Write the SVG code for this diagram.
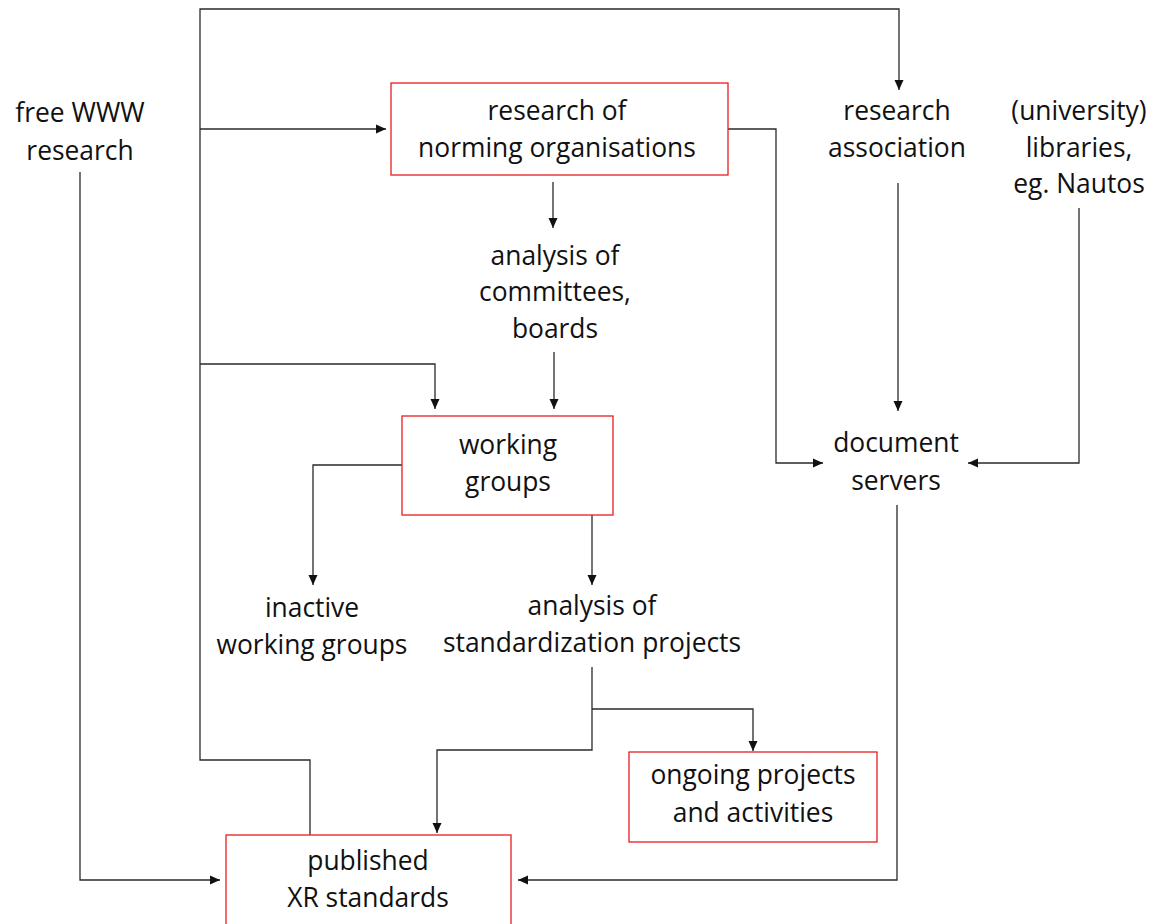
<svg xmlns="http://www.w3.org/2000/svg" width="1156" height="924" viewBox="0 0 1156 924">
<style>
text{font-family:"Open Sans","Liberation Sans",sans-serif;font-size:26.4px;fill:#111;text-anchor:middle}
.box{fill:#fff;stroke:#e81e1e;stroke-width:1.3}
.c{fill:none;stroke:#2a2a2a;stroke-width:1.3}
</style>
<defs>
<marker id="ah" markerUnits="userSpaceOnUse" markerWidth="10" markerHeight="10" refX="10" refY="5" orient="auto">
<path d="M0,0.5 L10,5 L0,9.5 z" fill="#111"/>
</marker>
</defs>
<rect width="1156" height="924" fill="#fff"/>
<g id="connectors">
<path class="c" d="M310,835 V760 H200 V9 H899 V90" marker-end="url(#ah)"/>
<path class="c" d="M200,129 H386" marker-end="url(#ah)"/>
<path class="c" d="M200,364 H435 V409" marker-end="url(#ah)"/>
<path class="c" d="M553,182 V228" marker-end="url(#ah)"/>
<path class="c" d="M554,352 V409" marker-end="url(#ah)"/>
<path class="c" d="M728,129 H776 V463 H823" marker-end="url(#ah)"/>
<path class="c" d="M1079,208 V463 H968" marker-end="url(#ah)"/>
<path class="c" d="M898,183 V411" marker-end="url(#ah)"/>
<path class="c" d="M897,505 V880 H518" marker-end="url(#ah)"/>
<path class="c" d="M80,172 V880 H220" marker-end="url(#ah)"/>
<path class="c" d="M402,465 H313 V585" marker-end="url(#ah)"/>
<path class="c" d="M592,515 V585" marker-end="url(#ah)"/>
<path class="c" d="M592,667 V750 H437 V833" marker-end="url(#ah)"/>
<path class="c" d="M592,709 H753 V751" marker-end="url(#ah)"/>
</g>
<g id="free-www">
<text x="80" y="122">free WWW</text>
<text x="80" y="160">research</text>
</g>
<g id="research-norming">
<rect class="box" x="391" y="83" width="337" height="92"/>
<text x="557" y="120">research of</text>
<text x="557" y="157">norming organisations</text>
</g>
<g id="research-association">
<text x="897" y="120">research</text>
<text x="897" y="157">association</text>
</g>
<g id="libraries">
<text x="1079" y="120">(university)</text>
<text x="1079" y="157">libraries,</text>
<text x="1079" y="193">eg. Nautos</text>
</g>
<g id="analysis-committees">
<text x="555" y="265">analysis of</text>
<text x="555" y="301">committees,</text>
<text x="555" y="338">boards</text>
</g>
<g id="working-groups">
<rect class="box" x="402" y="416" width="211" height="99"/>
<text x="508" y="454">working</text>
<text x="508" y="491">groups</text>
</g>
<g id="document-servers">
<text x="896" y="452">document</text>
<text x="896" y="490">servers</text>
</g>
<g id="inactive">
<text x="312" y="617">inactive</text>
<text x="312" y="654">working groups</text>
</g>
<g id="analysis-projects">
<text x="592" y="615">analysis of</text>
<text x="592" y="652">standardization projects</text>
</g>
<g id="ongoing">
<rect class="box" x="629" y="752" width="248" height="90"/>
<text x="753" y="784">ongoing projects</text>
<text x="753" y="822">and activities</text>
</g>
<g id="published">
<rect class="box" x="226" y="835" width="285" height="100"/>
<text x="368" y="870">published</text>
<text x="368" y="907">XR standards</text>
</g>
</svg>
